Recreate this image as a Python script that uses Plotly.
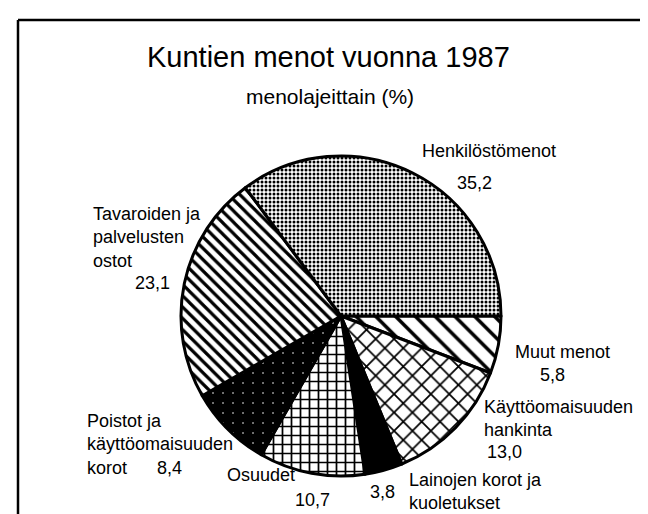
import plotly.graph_objects as go

W, H = 648, 514

categories = ["Henkilöstömenot", "Tavaroiden ja palvelusten ostot", "Poistot ja käyttöomaisuuden korot",
              "Osuudet", "Lainojen korot ja kuoletukset", "Käyttöomaisuuden hankinta", "Muut menot"]
values = [35.2, 23.1, 8.4, 10.7, 3.8, 13.0, 5.8]
value_labels = ["35,2", "23,1", "8,4", "10,7", "3,8", "13,0", "5,8"]

shapes_pat = [".", "\\", ".", "+", "", "x", "\\"]
bg = ["white", "white", "black", "white", "black", "white", "white"]
fg = ["black", "black", "white", "black", "black", "black", "black"]
sizes = [4, 8, 10, 9, 8, 13, 14]
solid = [0.45, 0.4, 0.02, 0.35, 0.5, 0.25, 0.25]

def px(x):
    return x / W

def py(y):
    return 1 - y / H

cx, cy, r = 333, 308, 160

# drawn clockwise from 3 o'clock with the order reversed == counterclockwise from 3 o'clock
rev = slice(None, None, -1)
fig = go.Figure(go.Pie(
    labels=categories[rev], values=values[rev], sort=False, direction="clockwise", rotation=90,
    textinfo="none", hoverinfo="label+value",
    marker=dict(colors=bg[rev], line=dict(color="black", width=3),
                pattern=dict(shape=shapes_pat[rev], bgcolor=bg[rev], fgcolor=fg[rev], size=sizes[rev],
                             solidity=solid[rev], fillmode="replace")),
    domain=dict(x=[px(cx - r), px(cx + r)], y=[py(cy + r), py(cy - r)]),
    showlegend=False,
))

font = "Liberation Sans, Arial, Helvetica, sans-serif"
ann = []
NB = "\u00a0"

def add(text, x, y, size=18, anchor="left", yanchor="middle"):
    ann.append(dict(text=text, x=px(x), y=py(y), xref="paper", yref="paper", xanchor=anchor,
                    yanchor=yanchor, align="left", showarrow=False,
                    font=dict(family=font, size=size, color="black")))

add("Kuntien menot vuonna 1987", 320, 49, size=29, anchor="center")
add("menolajeittain (%)", 322, 88, size=21, anchor="center")

add("Henkilöstömenot", 412, 143)
add(value_labels[0], 447, 175)
add("Tavaroiden ja<br>palvelusten<br>ostot", 83, 230)
add(value_labels[1], 125, 275)
add("Muut menot<br>" + NB * 5 + value_labels[6], 505, 355)
add("Käyttöomaisuuden<br>hankinta", 474, 410)
add(value_labels[5], 477, 444)
add("Lainojen korot ja<br>kuoletukset", 399, 483)
add(value_labels[4], 360, 484)
add("Osuudet", 217, 467)
add(value_labels[3], 285, 492)
add("Poistot ja<br>käyttöomaisuuden<br>korot" + NB * 6 + value_labels[2], 77, 436)

frame = [
    dict(type="line", xref="paper", yref="paper", x0=px(10), x1=1, y0=py(12), y1=py(12),
         line=dict(color="black", width=2.5)),
    dict(type="line", xref="paper", yref="paper", x0=px(10), x1=px(10), y0=py(12), y1=0,
         line=dict(color="black", width=2.5)),
]

fig.update_layout(width=W, height=H, margin=dict(l=0, r=0, t=0, b=0),
                  paper_bgcolor="white", plot_bgcolor="white",
                  annotations=ann, shapes=frame)

fig.write_html("out.html")
